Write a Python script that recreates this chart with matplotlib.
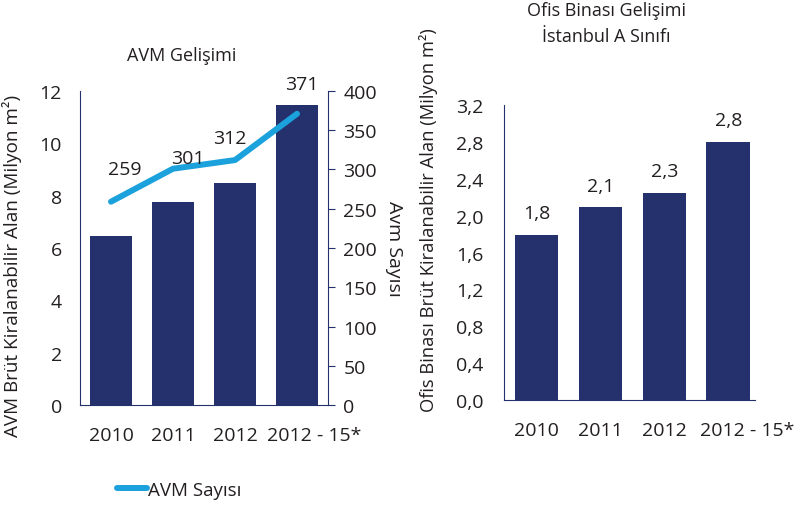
import numpy as np
import matplotlib
matplotlib.use('Agg')
from matplotlib import pyplot as plt
from matplotlib import transforms

## DATI
yillar = ['2010', '2011', '2012', '2012 - 15*']
avm_alan = [6.47, 7.77, 8.47, 11.48]        # milyon m2
avm_sayisi = [259, 301, 312, 371]
ofis_alan = [1.79, 2.09, 2.245, 2.80]       # milyon m2
ofis_etiket = ['1,8', '2,1', '2,3', '2,8']

lacivert = '#25316d'
mavi = '#1ba1db'
yazi = '#231f20'

plt.rcParams['font.family'] = ['Open Sans', 'DejaVu Sans']
plt.rcParams['text.color'] = yazi
plt.rcParams['axes.labelcolor'] = yazi
plt.rcParams['xtick.color'] = yazi
plt.rcParams['ytick.color'] = yazi

fig = plt.figure(figsize=(8.09, 5.06), dpi=100)
x = np.arange(len(yillar))

def kaydir(ax, dx_px):
    # son etiketi saga kaydir (orijinaldeki gibi)
    lab = ax.get_xticklabels()[-1]
    lab.set_transform(lab.get_transform() + transforms.Affine2D().translate(dx_px, 0))

## SOL GRAFIK - AVM
ax1 = fig.add_axes([0.0989, 0.1976, 0.3066, 0.6206])
ax1.bar(x, avm_alan, width=0.67, color=lacivert, zorder=2)
ax1.set_xlim(-0.5, 3.5)
ax1.set_ylim(0, 12)
ax1.set_yticks(np.arange(0, 13, 2))
ax1.set_xticks(x)
ax1.set_xticklabels(yillar, fontsize=14)
ax1.tick_params(axis='y', length=0, labelsize=14, pad=13)
ax1.tick_params(axis='x', length=0, pad=15)
for s in ['top', 'right']:
    ax1.spines[s].set_visible(False)
for s in ['left', 'bottom']:
    ax1.spines[s].set_color(lacivert)
ax1.set_ylabel('AVM Brüt Kiralanabilir Alan (Milyon m²)', fontsize=13.6)
ax1.yaxis.set_label_coords(-0.234, 0.445)
ax1.set_title('AVM Gelişimi', fontsize=13, pad=22, x=0.411)
kaydir(ax1, 17)

ax2 = ax1.twinx()
ax2.plot(x, avm_sayisi, color=mavi, lw=4.3, solid_capstyle='round', zorder=3)
ax2.set_ylim(0, 400)
ax2.set_yticks(np.arange(0, 401, 50))
ax2.tick_params(axis='y', length=5, color=lacivert, labelsize=14, pad=6)
ax2.spines['right'].set_color(lacivert)
ax2.spines['top'].set_visible(False)
ax2.spines['left'].set_visible(False)
ax2.spines['bottom'].set_visible(False)
ax2.set_ylabel('Avm Sayısı', fontsize=14, rotation=-90, labelpad=19)
ofs = [(9.7, 23.8), (10.4, 7.5), (-4, 15.8), (3.2, 21.6)]
for i, v in enumerate(avm_sayisi):
    ax2.annotate(str(v), (x[i], v), xytext=ofs[i], textcoords='offset points',
                 ha='center', va='center', fontsize=14)
fig.legend(ax2.get_lines(), ['AVM Sayısı'], loc='center left',
           bbox_to_anchor=(0.1446, 0.0296), frameon=False, fontsize=13.5,
           handlelength=1.6, handletextpad=0.05, borderpad=0, borderaxespad=0)

## SAG GRAFIK - OFIS
ax3 = fig.add_axes([0.6234, 0.2075, 0.31, 0.583])
ax3.bar(x, ofis_alan, width=0.68, color=lacivert, zorder=2)
ax3.set_xlim(-0.5, 3.42)
ax3.set_ylim(0, 3.2)
yt = np.arange(0, 3.21, 0.4)
ax3.set_yticks(yt)
ax3.set_yticklabels([('%.1f' % t).replace('.', ',') for t in yt])
ax3.set_xticks(x)
ax3.set_xticklabels(yillar, fontsize=14)
ax3.tick_params(axis='y', length=0, labelsize=14, pad=15)
ax3.tick_params(axis='x', length=0, pad=15)
for s in ['top', 'right']:
    ax3.spines[s].set_visible(False)
for s in ['left', 'bottom']:
    ax3.spines[s].set_color(lacivert)
for i, v in enumerate(ofis_alan):
    ax3.annotate(ofis_etiket[i], (x[i], v), xytext=(0, 15.6), textcoords='offset points',
                 ha='center', va='center', fontsize=14)
ax3.set_ylabel('Ofis Binası Brüt Kiralanabilir Alan (Milyon m²)', fontsize=13.2)
ax3.yaxis.set_label_coords(-0.264, 0.614)
ax3.set_title('Ofis Binası Gelişimi\nİstanbul A Sınıfı', fontsize=13, pad=46,
              linespacing=1.6, x=0.406)
kaydir(ax3, 19)

plt.savefig('out.png', dpi=100)
